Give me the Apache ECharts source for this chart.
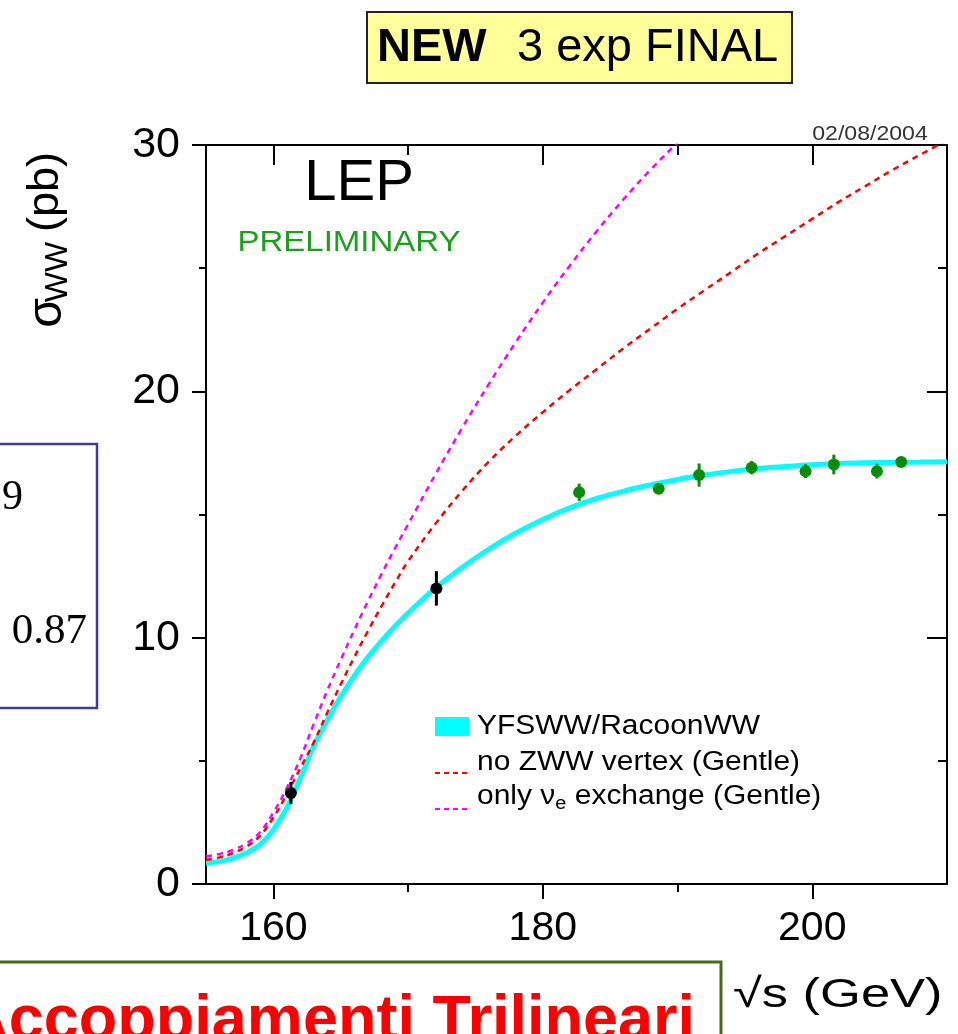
<!DOCTYPE html>
<html>
<head>
<meta charset="utf-8">
<script src="https://cdn.jsdelivr.net/npm/echarts@6/dist/echarts.min.js"></script>
<style>
html,body{margin:0;padding:0;background:#fff;}
#chart{width:958px;height:1034px;}
</style>
</head>
<body>
<div id="chart"></div>
<script>
// ---- data ----
const theoryE  = [155,156,157,158,159,160,161,162,163,164,165,166,167,168,169,170,172,174,176,178,180,182,184,186,188,190,192,194,196,198,200,202,204,206,208,210];
const yfsww    = [0.85,0.92,1.05,1.26,1.6,2.2,3.1,4.3,5.6,6.65,7.6,8.45,9.2,9.85,10.45,11.0,12.0,12.85,13.6,14.25,14.8,15.27,15.65,15.95,16.2,16.42,16.6,16.75,16.87,16.95,17.02,17.07,17.1,17.12,17.13,17.14];
const noZWW    = [0.98,1.08,1.25,1.52,1.95,2.7,3.65,4.7,5.75,6.95,8.1,9.2,10.25,11.25,12.2,13.1,14.6,15.95,17.15,18.2,19.15,20.05,20.9,21.75,22.55,23.35,24.1,24.85,25.6,26.3,27.0,27.7,28.35,29.0,29.6,30.2];
const onlyNue  = [1.12,1.22,1.38,1.65,2.1,2.9,3.9,5.1,6.5,7.85,9.1,10.3,11.45,12.55,13.6,14.6,16.6,18.5,20.3,22.0,23.6,25.1,26.5,27.8,29.0,30.1,31.2];
const lep1E     = [161.3, 172.1];
const lep1Sigma = [3.69, 12.0];
const lep1Err   = [0.45, 0.7];
const lep2E     = [182.7, 188.6, 191.6, 195.5, 199.5, 201.6, 204.8, 206.6];
const lep2Sigma = [15.9, 16.05, 16.6, 16.9, 16.76, 17.03, 16.76, 17.13];
const lep2Err   = [0.35, 0.2, 0.47, 0.27, 0.28, 0.4, 0.3, 0.2];
const xMajorTicks = [160, 180, 200];
const xMinorTicks = [170, 190];
const legendLabels = ['YFSWW/RacoonWW', 'no ZWW vertex (Gentle)', 'exchange (Gentle)'];

// ---- chart ----
const FONT = 'Liberation Sans, Arial, Helvetica, sans-serif';
const chart = echarts.init(document.getElementById('chart'), null, {renderer: 'canvas'});
const zip = (a, b) => a.map((v, i) => [v, b[i]]);
const pts = (e, s, r) => e.map((v, i) => [v, s[i], r[i]]);
const lineBlack = {color: '#000', width: 2};

function errRender(color) {
  return function (params, api) {
    const x = api.value(0), y = api.value(1), e = api.value(2);
    const p = api.coord([x, y]);
    const t = api.coord([x, y + e]);
    const b = api.coord([x, y - e]);
    return {
      type: 'group',
      children: [
        {type: 'line', shape: {x1: p[0], y1: t[1], x2: p[0], y2: b[1]}, style: {stroke: color, lineWidth: 3}},
        {type: 'circle', shape: {cx: p[0], cy: p[1], r: 6}, style: {fill: color}}
      ]
    };
  };
}

const baseX = {type: 'value', min: 155, max: 210, splitLine: {show: false}};
const baseY = {type: 'value', min: 0, max: 30, interval: 10, splitLine: {show: false}, minorSplitLine: {show: false}};

const option = {
  animation: false,
  backgroundColor: '#fff',
  grid: {left: 206, right: 11, top: 145, bottom: 150, containLabel: false},
  xAxis: [
    Object.assign({}, baseX, {position: 'bottom',
      axisLine: {show: true, onZero: false, lineStyle: lineBlack},
      axisTick: {show: true, customValues: xMajorTicks, length: 15, lineStyle: lineBlack},
      axisLabel: {show: true, customValues: xMajorTicks, fontSize: 41, fontFamily: FONT, color: '#000', margin: 24}}),
    Object.assign({}, baseX, {position: 'bottom',
      axisLine: {show: false, onZero: false},
      axisTick: {show: true, customValues: xMinorTicks, length: 8, lineStyle: lineBlack},
      axisLabel: {show: false}}),
    Object.assign({}, baseX, {position: 'top',
      axisLine: {show: true, onZero: false, lineStyle: lineBlack},
      axisTick: {show: true, inside: true, customValues: xMajorTicks, length: 20, lineStyle: lineBlack},
      axisLabel: {show: false}}),
    Object.assign({}, baseX, {position: 'top',
      axisLine: {show: false, onZero: false},
      axisTick: {show: true, inside: true, customValues: xMinorTicks, length: 10, lineStyle: lineBlack},
      axisLabel: {show: false}})
  ],
  yAxis: [
    Object.assign({}, baseY, {position: 'left',
      axisLine: {show: true, onZero: false, lineStyle: lineBlack},
      axisTick: {show: true, length: 14, lineStyle: lineBlack},
      minorTick: {show: true, splitNumber: 2, length: 7, lineStyle: lineBlack},
      axisLabel: {show: true, fontSize: 43, fontFamily: FONT, color: '#000', margin: 26}}),
    Object.assign({}, baseY, {position: 'right',
      axisLine: {show: true, onZero: false, lineStyle: lineBlack},
      axisTick: {show: true, inside: true, length: 20, lineStyle: lineBlack},
      minorTick: {show: true, splitNumber: 2, length: 9, lineStyle: lineBlack},
      axisLabel: {show: false}})
  ],
  series: [
    {type: 'line', name: 'YFSWW/RacoonWW', data: zip(theoryE, yfsww), showSymbol: false, smooth: 0.4,
      lineStyle: {color: '#00ffff', width: 5}, clip: true, z: 2},
    {type: 'line', name: 'no ZWW vertex (Gentle)', data: zip(theoryE, noZWW), showSymbol: false, smooth: 0.4,
      lineStyle: {color: '#ff0000', width: 2.5, type: [6, 5]}, clip: true, z: 3},
    {type: 'line', name: 'only nu_e exchange (Gentle)', data: zip(theoryE.slice(0, onlyNue.length), onlyNue), showSymbol: false, smooth: 0.4,
      lineStyle: {color: '#ff00ff', width: 2.5, type: [6, 5]}, clip: true, z: 3},
    {type: 'custom', name: 'LEP low', data: pts(lep1E, lep1Sigma, lep1Err), renderItem: errRender('#000'), z: 5},
    {type: 'custom', name: 'LEP2', data: pts(lep2E, lep2Sigma, lep2Err), renderItem: errRender('#0a8c0a'), z: 5}
  ],
  graphic: [
    // top yellow box
    {type: 'rect', shape: {x: 367, y: 12, width: 425, height: 71}, style: {fill: '#ffff99', stroke: '#222', lineWidth: 2}, z: 10},
    {type: 'text', x: 377, y: 48, style: {text: 'NEW', fontSize: 47, fontWeight: 'bold', fontFamily: FONT, fill: '#000', align: 'left', verticalAlign: 'middle'}, z: 11},
    {type: 'text', x: 517, y: 48, style: {text: '3 exp FINAL', fontSize: 47, fontFamily: FONT, fill: '#000', align: 'left', verticalAlign: 'middle'}, z: 11},
    // left blue box
    {type: 'rect', shape: {x: -10, y: 444, width: 107, height: 264}, style: {fill: 'rgba(0,0,0,0)', stroke: '#3c3c9c', lineWidth: 2.5}, z: 10},
    {type: 'text', x: 23, y: 498, style: {text: '9', fontSize: 42, fontFamily: 'Liberation Serif, Times New Roman, serif', fill: '#000', align: 'right', verticalAlign: 'middle'}, z: 11},
    {type: 'text', x: 87, y: 632, style: {text: '0.87', fontSize: 43, fontFamily: 'Liberation Serif, Times New Roman, serif', fill: '#000', align: 'right', verticalAlign: 'middle'}, z: 11},
    // bottom green box
    {type: 'rect', shape: {x: -10, y: 962, width: 731, height: 100}, style: {fill: '#fff', stroke: '#4b6b1b', lineWidth: 3}, z: 10},
    {type: 'text', x: 695, y: 1022, style: {text: 'Accoppiamenti Trilineari', fontSize: 63, fontWeight: 'bold', fontFamily: FONT, fill: '#ff0000', align: 'right', verticalAlign: 'middle'}, z: 11},
    // x axis name
    {type: 'text', x: 733, y: 996, scaleX: 1.28, style: {text: '\u221As (GeV)', fontSize: 41, fontFamily: FONT, fill: '#000', align: 'left', verticalAlign: 'middle'}, z: 11},
    // y axis name (rotated)
    {type: 'text', x: 48, y: 313, rotation: Math.PI / 2, style: {text: '\u03C3', fontSize: 48, fontFamily: FONT, fill: '#000', align: 'center', verticalAlign: 'middle'}, z: 11},
    {type: 'text', x: 58, y: 272, rotation: Math.PI / 2, style: {text: 'WW', fontSize: 32, fontFamily: FONT, fill: '#000', align: 'center', verticalAlign: 'middle'}, z: 11},
    {type: 'text', x: 46, y: 192, rotation: Math.PI / 2, style: {text: '(pb)', fontSize: 45, fontFamily: FONT, fill: '#000', align: 'center', verticalAlign: 'middle'}, z: 11},
    // in-plot labels
    {type: 'text', x: 359, y: 184, style: {text: 'LEP', fontSize: 58, fontFamily: FONT, fill: '#000', align: 'center', verticalAlign: 'middle'}, z: 11},
    {type: 'text', x: 349, y: 243, scaleX: 1.1, style: {text: 'PRELIMINARY', fontSize: 30, fontFamily: FONT, fill: '#1e9e1e', align: 'center', verticalAlign: 'middle'}, z: 11},
    {type: 'text', x: 870, y: 134, scaleX: 1.1, style: {text: '02/08/2004', fontSize: 21, fontFamily: FONT, fill: '#333', align: 'center', verticalAlign: 'middle'}, z: 11},
    // legend
    {type: 'rect', shape: {x: 435, y: 717, width: 34, height: 19}, style: {fill: '#00ffff'}, z: 11},
    {type: 'text', x: 477, y: 727, scaleX: 1.11, style: {text: legendLabels[0], fontSize: 27, fontFamily: FONT, fill: '#000', align: 'left', verticalAlign: 'middle'}, z: 11},
    {type: 'line', shape: {x1: 435, y1: 773, x2: 469, y2: 773}, style: {stroke: '#ff0000', lineWidth: 2, lineDash: [5, 4]}, z: 11},
    {type: 'text', x: 477, y: 763, scaleX: 1.11, style: {text: legendLabels[1], fontSize: 27, fontFamily: FONT, fill: '#000', align: 'left', verticalAlign: 'middle'}, z: 11},
    {type: 'line', shape: {x1: 435, y1: 809, x2: 469, y2: 809}, style: {stroke: '#ff00ff', lineWidth: 2, lineDash: [5, 4]}, z: 11},
    {type: 'text', x: 477, y: 797, scaleX: 1.11, style: {text: '{a|only \u03BD}{s|e}{a| ' + legendLabels[2] + '}', fontFamily: FONT, fill: '#000', align: 'left', verticalAlign: 'middle',
      rich: {a: {fontSize: 27, fontFamily: FONT, fill: '#000'}, s: {fontSize: 18, fontFamily: FONT, fill: '#000', padding: [14, 0, 0, 0]}}}, z: 11}
  ]
};
chart.setOption(option);
</script>
</body>
</html>
